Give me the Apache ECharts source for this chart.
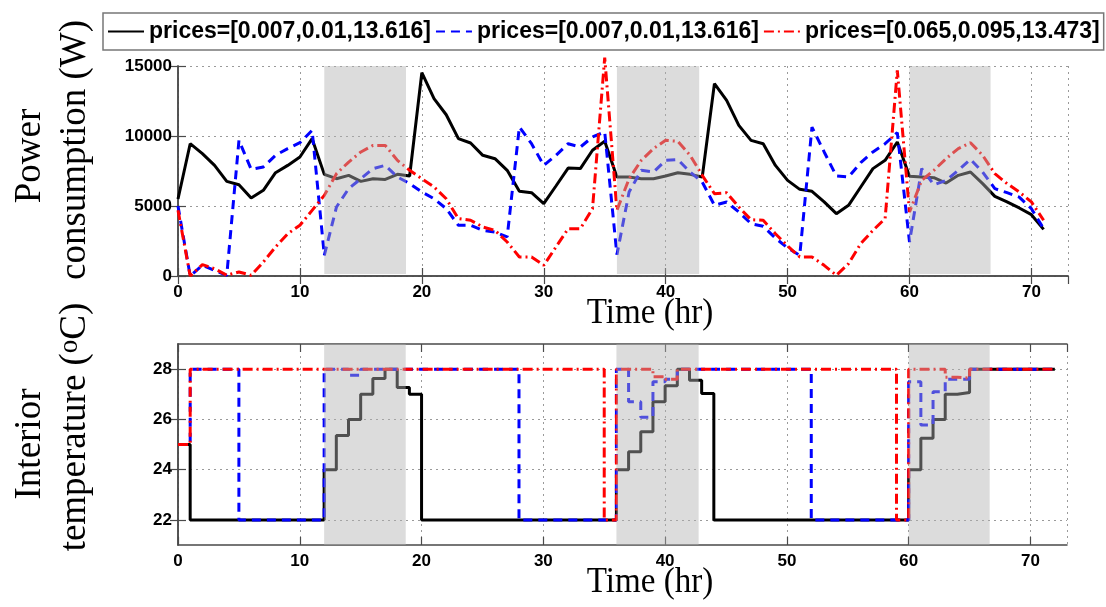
<!DOCTYPE html>
<html>
<head>
<meta charset="utf-8">
<script src="https://cdn.jsdelivr.net/npm/echarts@6/dist/echarts.min.js"></script>
<style>html,body{margin:0;padding:0;background:#fff}#c{width:1106px;height:607px}</style>
</head>
<body>
<div id="c"></div>
<script>
// ---------- data ----------
const names = ['prices=[0.007,0.01,13.616]', 'prices=[0.007,0.01,13.616]\u200b', 'prices=[0.065,0.095,13.473]'];
const hoursPower = Array.from({length: 72}, (_, i) => i);
const hoursTemp = Array.from({length: 73}, (_, i) => i);

const powerBlack = [5500,9450,8740,7900,6760,6520,5570,6120,7380,7900,8500,9810,7260,6950,7190,6760,6950,6900,7260,7140,
  14520,12670,11520,9810,9500,8620,8380,7550,6050,5950,5170,6430,7710,7670,8980,9620,7070,7070,6950,6950,
  7140,7380,7260,7070,13740,12550,10760,9690,9450,7900,6830,6190,6050,5290,4450,5050,6360,7670,8260,9570,
  7120,7070,7020,6640,7190,7430,6600,5690,5290,4860,4380,3330];
const powerBlue = [5000,0,760,400,50,9690,7620,7790,8620,9100,9520,10400,1480,4930,6240,6950,7670,7900,7070,6600,
  6000,5520,4810,3620,3620,3260,3140,2790,10640,9450,7900,8620,9450,9210,9930,10290,1520,6000,7550,7430,
  8260,8310,7430,6710,5050,5290,4570,3740,3550,2710,2000,1480,10640,8860,7140,7070,8100,8860,9450,10240,
  2430,7670,6520,6830,7550,8330,7430,6240,5950,5640,4810,3380];
const powerRed = [4700,0,810,520,50,290,50,1000,2070,3020,3620,4690,5760,7310,8140,8860,9330,9330,8260,7550,
  6950,6360,5520,4100,3980,3500,3260,2430,1360,1360,760,2070,3380,3380,4810,15600,4690,6950,8260,9100,
  9690,9620,8620,7190,5880,5950,4930,4020,3980,3020,2150,1360,1360,760,50,880,2310,3260,4100,14690,
  4570,6830,7550,8380,9100,9520,8620,7310,6600,6000,5290,3980];

const tempBlack = [25,22,22,22,22,22,22,22,22,22,22,22,24,25.36,26,27,27.63,28,27.27,27.0,
  22,22,22,22,22,22,22,22,22,22,22,22,22,22,22,22,24,24.71,25.51,26.7,27.34,28,27.56,27.03,
  22,22,22,22,22,22,22,22,22,22,22,22,22,22,22,22,24,25.25,26,27,27.07,28,28,28,28,28,28,28,28];
const tempBlue = [25,28,28,28,28,22,22,22,22,22,22,22,28,28,27.76,28,28,28,28,28,28,28,28,28,28,28,28,28,
  22,22,22,22,22,22,22,22,28,26.7,26.08,27.5,27.6,28,28,28,28,28,28,28,28,28,28,28,
  22,22,22,22,22,22,22,22,27.5,25.78,27.1,27.6,27.6,28,28,28,28,28,28,28,28];
const tempRed = [25,28,28,28,28,28,28,28,28,28,28,28,28,28,28,28,28,28,28,28,28,28,28,28,28,28,28,28,28,28,28,28,28,28,28,
  22,28,28,28,27.7,27.6,28,28,28,28,28,28,28,28,28,28,28,28,28,28,28,28,28,28,
  22,28,28,28,27.68,27.64,28,28,28,28,28,28,28,28];

const shadeIntervals = [[12, 18.7], [36, 42.75], [60, 66.65]];
const xTicks = [0, 10, 20, 30, 40, 50, 60, 70];
const powerTicks = [0, 5000, 10000, 15000];
const tempTicks = [22, 24, 26, 28];

// ---------- styling ----------
const colors = ['#000000', '#0000ff', '#ff0000'];
const dashes = ['solid', [9, 6], [10, 4, 2, 4]];
const axisColor = '#4a4a4a';
const labelFont = {fontFamily: 'Liberation Sans', fontWeight: 'bold', fontSize: 17, color: '#000'};

function pair(xs, ys) { return ys.map((v, i) => [xs[i], v]); }

function makeAxes(gi, xmin, xmax, ymin, ymax, yInterval, yCustom) {
  const split = {show: true, lineStyle: {color: '#9a9a9a', type: [2, 4], width: 1}};
  const tick = {show: true, inside: true, length: 8, lineStyle: {color: axisColor, width: 1.2}};
  const line = {show: true, lineStyle: {color: axisColor, width: 1.5}};
  const xa = [
    {gridIndex: gi, type: 'value', min: xmin, max: xmax, interval: 10, axisLine: line, axisTick: tick,
     axisLabel: Object.assign({margin: 8, showMaxLabel: false, formatter: v => String(v)}, labelFont), splitLine: split},
    {gridIndex: gi, type: 'value', position: 'top', min: xmin, max: xmax, interval: 10, axisLine: line, axisTick: tick,
     axisLabel: {show: false}, splitLine: {show: false}}
  ];
  const yl = Object.assign({margin: 6, formatter: v => String(v)}, labelFont);
  const ytick = Object.assign({}, tick);
  if (yCustom) { yl.customValues = yCustom; ytick.customValues = yCustom; }
  const ya = [
    {gridIndex: gi, type: 'value', min: ymin, max: ymax, interval: yInterval, axisLine: line, axisTick: ytick,
     axisLabel: yl, splitLine: split},
    {gridIndex: gi, type: 'value', position: 'right', min: ymin, max: ymax, interval: yInterval, axisLine: line,
     axisTick: Object.assign({}, ytick), axisLabel: {show: false}, splitLine: {show: false}}
  ];
  return {xa, ya};
}

const axesTop = makeAxes(0, 0, 73, powerTicks[0], powerTicks[powerTicks.length - 1], 5000, null);
const axesBot = makeAxes(1, 0, 73, 21, 29, 1, tempTicks);

function shadeSeries(xi, yi, ylo, yhi) {
  return {
    type: 'custom', xAxisIndex: xi, yAxisIndex: yi, z: 10, silent: true,
    encode: {x: [0, 1], y: [2, 3]},
    data: shadeIntervals.map(s => [s[0], s[1], ylo, yhi]),
    renderItem: function (params, api) {
      const p0 = api.coord([api.value(0), api.value(3)]);
      const p1 = api.coord([api.value(1), api.value(2)]);
      return {type: 'rect', shape: {x: p0[0], y: p0[1], width: p1[0] - p0[0], height: p1[1] - p0[1]},
        style: {fill: 'rgba(178,178,178,0.45)'}};
    }
  };
}

const powerData = [powerBlack, powerBlue, powerRed];
const tempData = [tempBlack, tempBlue, tempRed];
const seriesList = [];
for (let k = 0; k < 3; k++) {
  seriesList.push({type: 'line', name: names[k], xAxisIndex: 0, yAxisIndex: 0, showSymbol: false, symbol: 'none',
    clip: false, data: pair(hoursPower, powerData[k]), color: colors[k],
    lineStyle: {color: colors[k], width: 3, type: dashes[k]}, z: 2 + k});
}
for (let k = 0; k < 3; k++) {
  seriesList.push({type: 'line', name: names[k], xAxisIndex: 2, yAxisIndex: 2, showSymbol: false, symbol: 'none',
    step: 'end', data: pair(hoursTemp, tempData[k]), color: colors[k],
    lineStyle: {color: colors[k], width: 3, type: dashes[k]}, z: 2 + k});
}
seriesList.push(shadeSeries(0, 0, 150, 15000));
seriesList.push(shadeSeries(2, 2, 21, 29));

const serif = 'Liberation Serif';
const option = {
  animation: false,
  backgroundColor: '#fff',
  grid: [
    {left: 178, top: 66, width: 890, height: 210},
    {left: 178, top: 344, width: 889, height: 201}
  ],
  xAxis: axesTop.xa.concat(axesBot.xa),
  yAxis: axesTop.ya.concat(axesBot.ya),
  legend: {
    data: names, left: 103, top: 13, orient: 'horizontal',
    itemWidth: 36, itemHeight: 14, itemGap: 4, padding: [7, 4],
    borderColor: '#777', borderWidth: 1.5, backgroundColor: '#fff',
    itemStyle: {opacity: 0},
    formatter: n => n.replace('\u200b', ''),
    textStyle: {fontFamily: 'Liberation Sans', fontWeight: 'bold', fontSize: 23, color: '#000'}
  },
  graphic: [
    {type: 'text', x: 650, y: 314, scaleX: 0.92, style: {text: 'Time (hr)', font: '36px "Liberation Serif"', fill: '#000', textAlign: 'center', textVerticalAlign: 'middle'}},
    {type: 'text', x: 650, y: 583, scaleX: 0.92, style: {text: 'Time (hr)', font: '36px "Liberation Serif"', fill: '#000', textAlign: 'center', textVerticalAlign: 'middle'}},
    {type: 'text', x: 30, y: 156, rotation: Math.PI / 2, style: {text: 'Power', font: '37px "Liberation Serif"', fill: '#000', textAlign: 'center', textVerticalAlign: 'middle'}},
    {type: 'text', x: 75, y: 150, rotation: Math.PI / 2, style: {text: 'consumption (W)', font: '37px "Liberation Serif"', fill: '#000', textAlign: 'center', textVerticalAlign: 'middle'}},
    {type: 'text', x: 30, y: 444, rotation: Math.PI / 2, style: {text: 'Interior', font: '37px "Liberation Serif"', fill: '#000', textAlign: 'center', textVerticalAlign: 'middle'}},
    {type: 'text', x: 75, y: 427, rotation: Math.PI / 2, style: {
      text: 'temperature ({sup|o}C)', fill: '#000', textAlign: 'center', textVerticalAlign: 'middle',
      fontFamily: serif, fontSize: 37,
      rich: {sup: {fontFamily: serif, fontSize: 27, verticalAlign: 'top', fill: '#000'}}
    }}
  ],
  series: seriesList
};
const chart = echarts.init(document.getElementById('c'), null, {renderer: 'canvas'});
chart.setOption(option);
</script>
</body>
</html>
